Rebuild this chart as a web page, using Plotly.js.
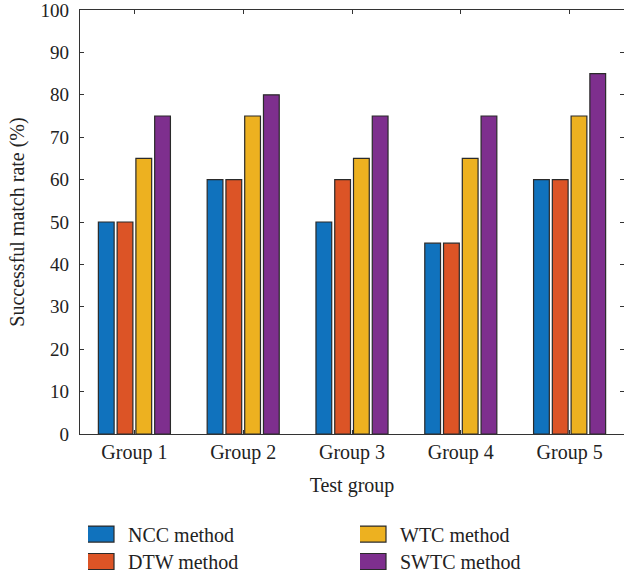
<!DOCTYPE html>
<html>
<head>
<meta charset="utf-8">
<script src="https://cdn.plot.ly/plotly-3.0.1.min.js"></script>
<style>html,body{margin:0;padding:0;background:#fff;}</style>
</head>
<body>
<div id="chart" style="width:624px;height:581px;"></div>
<script>
const groups = ["Group 1", "Group 2", "Group 3", "Group 4", "Group 5"];
const seriesNames = ["NCC method", "DTW method", "WTC method", "SWTC method"];
const ncc = [50, 60, 50, 45, 60];
const dtw = [50, 60, 60, 45, 60];
const wtc = [65, 75, 65, 65, 75];
const swtc = [75, 80, 75, 75, 85];
const colors = ["#1072BD", "#DC5426", "#EDB120", "#7E2F8E"];
const yTicks = [0, 10, 20, 30, 40, 50, 60, 70, 80, 90, 100];

const values = [ncc, dtw, wtc, swtc];
const legendIds = ["legend", "legend3", "legend2", "legend4"];
const FONT = "Liberation Serif, Times New Roman, serif";
const FS = 20;

const traces = values.map((v, i) => ({
  type: "bar",
  name: seriesNames[i],
  x: groups,
  y: v,
  marker: {color: colors[i], line: {color: "#2a2a2a", width: 1.2}},
  legend: legendIds[i],
  hoverinfo: "x+y+name"
}));

const legendBase = {
  font: {family: FONT, size: FS, color: "#222"},
  bgcolor: "rgba(0,0,0,0)",
  xanchor: "left", yanchor: "middle",
  xref: "paper", yref: "paper"
};
const T = 10, B = 143;
function px2x(px){ return (px - 80) / 544; }
function py2y(py){ return (581 - B - py) / (581 - B - T); }

const layout = {
  width: 624, height: 581,
  margin: {l: 80, r: 0, t: T, b: B},
  paper_bgcolor: "#fff", plot_bgcolor: "#fff",
  barmode: "group",
  bargap: 0.31,
  bargroupgap: 0.16,
  font: {family: FONT, size: FS, color: "#222"},
  xaxis: {
    type: "category",
    showgrid: false, zeroline: false,
    showline: true, linecolor: "#333", linewidth: 1.2, mirror: "ticks",
    ticks: "inside", ticklen: 4, tickcolor: "#333", tickwidth: 1,
    tickfont: {family: FONT, size: FS, color: "#222"},
    title: {text: "Test group", font: {family: FONT, size: FS, color: "#222"}, standoff: 14}
  },
  yaxis: {
    range: [0, 100],
    tickvals: yTicks,
    ticktext: yTicks.map(String),
    ticklabeloverflow: "allow",
    ticklabelstandoff: 6,
    showgrid: false, zeroline: false,
    showline: true, linecolor: "#333", linewidth: 1.2, mirror: "ticks",
    ticks: "inside", ticklen: 4, tickcolor: "#333", tickwidth: 1,
    tickfont: {family: FONT, size: 19, color: "#222"},
    title: {text: "Successful match rate (%)", font: {family: FONT, size: FS, color: "#222"}, standoff: 10}
  },
  legend:  Object.assign({}, legendBase, {x: px2x(88), y: py2y(539)}),
  legend3: Object.assign({}, legendBase, {x: px2x(88), y: py2y(567)}),
  legend2: Object.assign({}, legendBase, {x: px2x(360), y: py2y(539)}),
  legend4: Object.assign({}, legendBase, {x: px2x(360), y: py2y(567)}),
  showlegend: true
};

Plotly.newPlot("chart", traces, layout, {displayModeBar: false, staticPlot: true}).then(function(gd){
  gd.querySelectorAll(".legendpoints path").forEach(function(p){
    p.setAttribute("d", "M6,8H-29V-8H6Z");
  });
});
</script>
</body>
</html>
